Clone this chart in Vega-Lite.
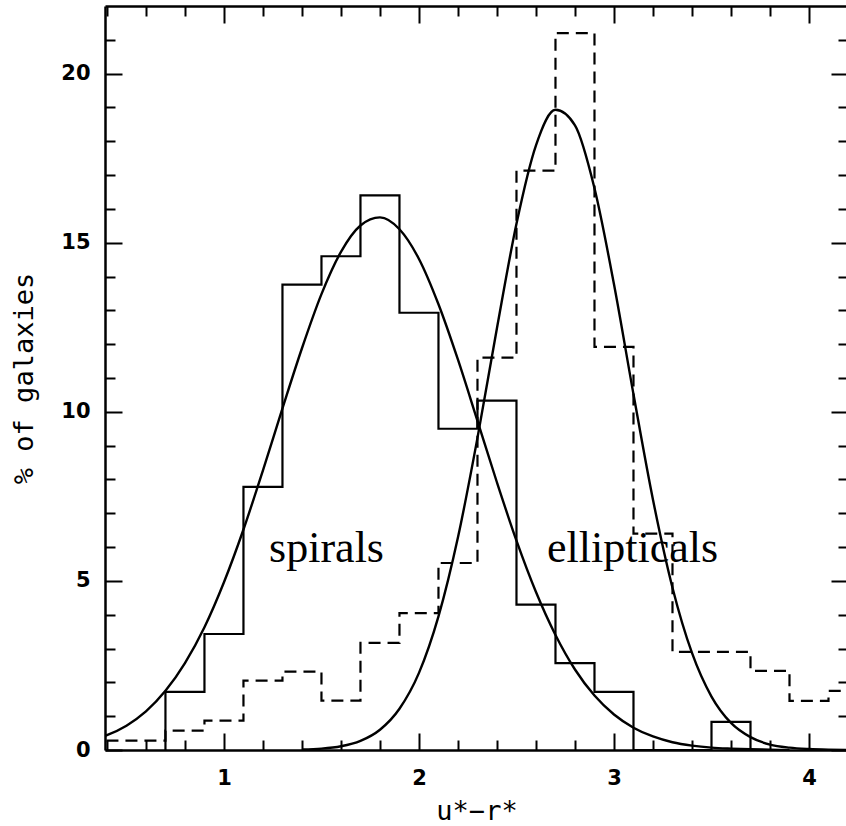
{
  "$schema": "https://vega.github.io/schema/vega-lite/v6.json",
  "width": 743,
  "height": 744,
  "autosize": {"type": "none"},
  "padding": {"left": 105, "top": 6, "right": 0, "bottom": 76},
  "background": "white",
  "config": {
    "view": {"stroke": null},
    "axis": {
      "grid": false,
      "domainColor": "black",
      "domainWidth": 2.5,
      "tickColor": "black",
      "tickWidth": 2,
      "labelColor": "black",
      "titleColor": "black",
      "labelFont": "DejaVu Sans",
      "labelFontSize": 21,
      "titleFont": "DejaVu Sans Mono",
      "titleFontSize": 27,
      "titleFontWeight": "normal"
    }
  },
  "datasets": {
    "spiral_hist": [
      {"i": 0, "x": 0.7, "y": 0},
      {"i": 1, "x": 0.7, "y": 1.72},
      {"i": 2, "x": 0.9, "y": 3.43},
      {"i": 3, "x": 1.1, "y": 7.78},
      {"i": 4, "x": 1.3, "y": 13.76},
      {"i": 5, "x": 1.5, "y": 14.6},
      {"i": 6, "x": 1.7, "y": 16.4},
      {"i": 7, "x": 1.9, "y": 12.93},
      {"i": 8, "x": 2.1, "y": 9.5},
      {"i": 9, "x": 2.3, "y": 10.33},
      {"i": 10, "x": 2.5, "y": 4.3},
      {"i": 11, "x": 2.7, "y": 2.57},
      {"i": 12, "x": 2.9, "y": 1.72},
      {"i": 13, "x": 3.1, "y": 0},
      {"i": 14, "x": 3.5, "y": 0.83},
      {"i": 15, "x": 3.7, "y": 0}
    ],
    "ellip_hist": [
      {"i": 0, "x": 0.3, "y": 0.28},
      {"i": 1, "x": 0.7, "y": 0.57},
      {"i": 2, "x": 0.9, "y": 0.87},
      {"i": 3, "x": 1.1, "y": 2.05},
      {"i": 4, "x": 1.3, "y": 2.32},
      {"i": 5, "x": 1.5, "y": 1.46},
      {"i": 6, "x": 1.7, "y": 3.17},
      {"i": 7, "x": 1.9, "y": 4.05},
      {"i": 8, "x": 2.1, "y": 5.53},
      {"i": 9, "x": 2.3, "y": 11.6},
      {"i": 10, "x": 2.5, "y": 17.13},
      {"i": 11, "x": 2.7, "y": 21.2},
      {"i": 12, "x": 2.9, "y": 11.92},
      {"i": 13, "x": 3.1, "y": 6.4},
      {"i": 14, "x": 3.3, "y": 2.9},
      {"i": 15, "x": 3.7, "y": 2.34},
      {"i": 16, "x": 3.9, "y": 1.45},
      {"i": 17, "x": 4.1, "y": 1.75},
      {"i": 18, "x": 4.3, "y": 1.75}
    ],
    "spiral_fit": [
      {"x": 0.3, "y": 0.26}, {"x": 0.4, "y": 0.44}, {"x": 0.5, "y": 0.72}, {"x": 0.6, "y": 1.14},
      {"x": 0.7, "y": 1.75}, {"x": 0.8, "y": 2.57}, {"x": 0.9, "y": 3.63}, {"x": 1.0, "y": 4.96},
      {"x": 1.1, "y": 6.52}, {"x": 1.2, "y": 8.27}, {"x": 1.3, "y": 10.1}, {"x": 1.4, "y": 11.88},
      {"x": 1.5, "y": 13.48}, {"x": 1.6, "y": 14.73}, {"x": 1.7, "y": 15.51}, {"x": 1.8, "y": 15.75},
      {"x": 1.9, "y": 15.4}, {"x": 2.0, "y": 14.52}, {"x": 2.1, "y": 13.18}, {"x": 2.2, "y": 11.54},
      {"x": 2.3, "y": 9.73}, {"x": 2.4, "y": 7.91}, {"x": 2.5, "y": 6.19}, {"x": 2.6, "y": 4.67},
      {"x": 2.7, "y": 3.4}, {"x": 2.8, "y": 2.38}, {"x": 2.9, "y": 1.61}, {"x": 3.0, "y": 1.05},
      {"x": 3.1, "y": 0.66}, {"x": 3.2, "y": 0.4}, {"x": 3.3, "y": 0.23}, {"x": 3.4, "y": 0.13},
      {"x": 3.5, "y": 0.07}, {"x": 3.6, "y": 0.04}, {"x": 3.7, "y": 0.02}, {"x": 3.8, "y": 0.01},
      {"x": 3.9, "y": 0.0}
    ],
    "ellip_fit": [
      {"x": 1.4, "y": 0.015}, {"x": 1.5, "y": 0.04}, {"x": 1.6, "y": 0.11}, {"x": 1.7, "y": 0.27},
      {"x": 1.8, "y": 0.6}, {"x": 1.9, "y": 1.22}, {"x": 2.0, "y": 2.28}, {"x": 2.1, "y": 3.95},
      {"x": 2.2, "y": 6.29}, {"x": 2.3, "y": 9.23}, {"x": 2.4, "y": 12.48}, {"x": 2.5, "y": 15.56},
      {"x": 2.6, "y": 17.88}, {"x": 2.7, "y": 18.93}, {"x": 2.8, "y": 18.47}, {"x": 2.9, "y": 16.61},
      {"x": 3.0, "y": 13.77}, {"x": 3.1, "y": 10.52}, {"x": 3.2, "y": 7.4}, {"x": 3.3, "y": 4.8},
      {"x": 3.4, "y": 2.87}, {"x": 3.5, "y": 1.58}, {"x": 3.6, "y": 0.8}, {"x": 3.7, "y": 0.38},
      {"x": 3.8, "y": 0.16}, {"x": 3.9, "y": 0.07}, {"x": 4.0, "y": 0.03}, {"x": 4.1, "y": 0.01},
      {"x": 4.2, "y": 0.0}
    ]
  },
  "resolve": {"axis": {"x": "independent", "y": "independent"}},
  "layer": [
    {
      "data": {"name": "spiral_hist"},
      "mark": {"type": "line", "interpolate": "step-after", "color": "black", "strokeWidth": 2.2, "clip": true},
      "encoding": {
        "x": {
          "field": "x", "type": "quantitative",
          "scale": {"domain": [0.39, 4.2], "nice": false, "zero": false},
          "axis": {"orient": "bottom", "values": [1, 2, 3, 4], "format": "d", "tickSize": -17, "labelPadding": 34, "labelFont": "DejaVu Sans", "labelFontSize": 21, "labelFontWeight": "bold", "title": "u*−r*", "titleFont": "DejaVu Sans Mono", "titleFontSize": 27, "titlePadding": 10}
        },
        "y": {
          "field": "y", "type": "quantitative",
          "scale": {"domain": [0, 22], "nice": false},
          "axis": {"orient": "left", "values": [0, 5, 10, 15, 20], "tickSize": -17, "labelPadding": 32, "labelFont": "DejaVu Sans", "labelFontSize": 21, "labelFontWeight": "bold", "title": "% of galaxies", "titleFont": "DejaVu Sans Mono", "titleFontSize": 27, "titlePadding": 22}
        },
        "order": {"field": "i", "type": "quantitative"}
      }
    },
    {
      "data": {"name": "ellip_hist"},
      "mark": {"type": "line", "interpolate": "step-after", "color": "black", "strokeWidth": 2.2, "strokeDash": [12, 7], "clip": true},
      "encoding": {
        "x": {
          "field": "x", "type": "quantitative",
          "axis": {"orient": "bottom", "values": [0.4, 0.6, 0.8, 1.2, 1.4, 1.6, 1.8, 2.2, 2.4, 2.6, 2.8, 3.2, 3.4, 3.6, 3.8], "tickSize": -10, "labels": false, "domain": false, "title": null}
        },
        "y": {
          "field": "y", "type": "quantitative",
          "axis": {"orient": "left", "values": [1, 2, 3, 4, 6, 7, 8, 9, 11, 12, 13, 14, 16, 17, 18, 19, 21], "tickSize": -10, "labels": false, "domain": false, "title": null}
        },
        "order": {"field": "i", "type": "quantitative"}
      }
    },
    {
      "data": {"name": "spiral_fit"},
      "mark": {"type": "line", "interpolate": "monotone", "color": "black", "strokeWidth": 2.4, "clip": true},
      "encoding": {
        "x": {
          "field": "x", "type": "quantitative",
          "axis": {"orient": "top", "values": [1, 2, 3, 4], "tickSize": -17, "labels": false, "title": null}
        },
        "y": {
          "field": "y", "type": "quantitative",
          "axis": {"orient": "right", "values": [0, 5, 10, 15, 20], "tickSize": -17, "labels": false, "title": null}
        }
      }
    },
    {
      "data": {"name": "ellip_fit"},
      "mark": {"type": "line", "interpolate": "monotone", "color": "black", "strokeWidth": 2.4, "clip": true},
      "encoding": {
        "x": {
          "field": "x", "type": "quantitative",
          "axis": {"orient": "top", "values": [0.4, 0.6, 0.8, 1.2, 1.4, 1.6, 1.8, 2.2, 2.4, 2.6, 2.8, 3.2, 3.4, 3.6, 3.8], "tickSize": -10, "labels": false, "domain": false, "title": null}
        },
        "y": {
          "field": "y", "type": "quantitative",
          "axis": {"orient": "right", "values": [1, 2, 3, 4, 6, 7, 8, 9, 11, 12, 13, 14, 16, 17, 18, 19, 21], "tickSize": -10, "labels": false, "domain": false, "title": null}
        }
      }
    },
    {
      "data": {"values": [{"label": "spirals"}]},
      "mark": {"type": "text", "font": "Liberation Serif", "fontSize": 44, "align": "center", "baseline": "alphabetic", "color": "black"},
      "encoding": {
        "text": {"field": "label"},
        "x": {"datum": 1.526, "type": "quantitative", "axis": null},
        "y": {"datum": 5.56, "type": "quantitative", "axis": null}
      }
    },
    {
      "data": {"values": [{"label": "ellipticals"}]},
      "mark": {"type": "text", "font": "Liberation Serif", "fontSize": 44, "align": "center", "baseline": "alphabetic", "color": "black"},
      "encoding": {
        "text": {"field": "label"},
        "x": {"datum": 3.095, "type": "quantitative", "axis": null},
        "y": {"datum": 5.56, "type": "quantitative", "axis": null}
      }
    }
  ]
}
